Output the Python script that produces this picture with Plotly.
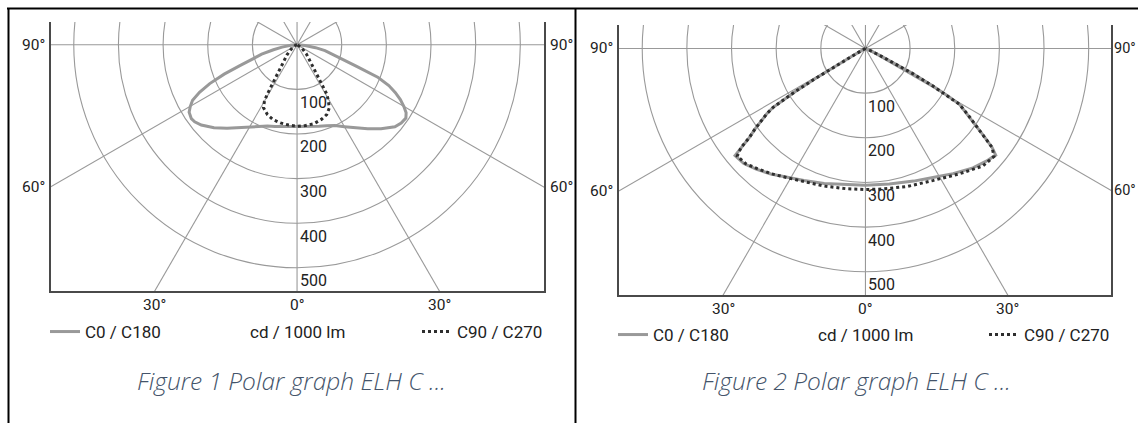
import numpy as np
import plotly.graph_objects as go

# ---------------- data (gamma angle in degrees from nadir, intensity in cd / 1000 lm) -------------
# Figure 1
fig1_c0_angle = [0, 5, 10, 15, 20, 25, 30, 35, 40, 45, 50, 53, 56, 58, 60, 62, 64, 66, 68, 70, 72, 75, 78, 81, 85, 90]
fig1_c0_cd = [183, 184, 186, 189, 193, 200, 212, 227, 246, 266, 286, 292, 294, 288, 276, 262, 245, 225, 196, 142, 108, 84, 64, 42, 18, 0]
fig1_c180_angle = [0, 5, 10, 15, 20, 25, 30, 35, 40, 45, 50, 53, 55, 58, 60, 62, 64, 66, 68, 70, 72, 75, 78, 81, 85, 90]
fig1_c180_cd = [183, 184, 187, 190, 194, 201, 212, 226, 244, 263, 280, 287, 289, 285, 276, 265, 243, 214, 176, 134, 110, 82, 54, 34, 14, 0]
fig1_c90_angle = [0, 6, 12, 18, 23, 27, 29, 31, 31.6, 32.4, 33.7, 35.6, 38.5, 45, 57, 70, 90]
fig1_c90_cd = [183, 182, 181, 176, 170, 159, 145, 130, 114, 97, 81, 64, 48, 30, 12, 4, 0]
fig1_c270_angle = [0, 6, 12, 18, 23, 28, 30, 31, 31.6, 32.4, 33.7, 35.6, 38.5, 45, 57, 70, 90]
fig1_c270_cd = [183, 181, 179, 176, 170, 160, 146, 130, 114, 97, 81, 64, 48, 32, 13, 4, 0]

# Figure 2
fig2_c0_angle = [0, 10, 14, 20, 27.6, 35, 42, 47, 50.7, 52, 53.5, 55, 57, 59.3, 60, 60.9, 62, 62.7, 64, 66, 70, 90]
fig2_c0_cd = [306, 308, 310, 316, 326, 342, 360, 370, 377, 360, 330, 303, 275, 245, 215, 173, 120, 86, 40, 15, 4, 0]
fig2_c180_angle = [0, 10, 17, 25, 31, 37, 42, 46.6, 50.6, 51.5, 52.5, 54, 55, 56.5, 57.5, 58, 58.5, 59, 59.5, 60, 62, 66, 90]
fig2_c180_cd = [306, 309, 316, 326, 337, 352, 364, 375, 378, 356, 328, 305, 290, 265, 245, 225, 185, 135, 80, 35, 10, 3, 0]
fig2_c90_angle = [0, 7, 17, 27, 37, 45, 50, 52, 53.5, 55, 57, 59.3, 60, 60.9, 62, 62.7, 64, 66, 70, 90]
fig2_c90_cd = [316, 317, 323, 332, 351, 372, 376, 360, 330, 303, 275, 245, 215, 173, 120, 86, 40, 15, 4, 0]
fig2_c270_angle = [0, 8, 17, 25, 31, 37, 42, 46, 50, 51.5, 52.5, 54, 55, 56.5, 57.5, 58, 58.5, 59, 59.5, 60, 62, 66, 90]
fig2_c270_cd = [316, 317, 322, 329, 338, 351, 362, 372, 375, 356, 328, 305, 290, 265, 245, 225, 185, 135, 80, 35, 10, 3, 0]

ring_values = [100, 200, 300, 400, 500]
ring_labels = ["100", "200", "300", "400", "500"]
spoke_angles = list(range(0, 360, 30))
side_label_angles = [90, 60]
bottom_label_angles = [-30, 0, 30]
legend_solid = "C0 / C180"
legend_dotted = "C90 / C270"
unit_label = "cd / 1000 lm"
captions = ["Figure 1 Polar graph ELH C ...", "Figure 2 Polar graph ELH C ..."]

# ---------------- styling / layout -------------
W, H = 1138, 423
NARROW = "Roboto, Liberation Sans, sans-serif"
TXT = "#222222"
GRID = "#999999"
FRAME = "#4a4a4a"
SOLID = "#999999"
DOTS = "#2e2e2e"

panels = [
    dict(xpx=(51, 544), ypx=(22, 291), xr=(-551, 553), yr=(-552, 51),
         solid=((fig1_c180_angle, fig1_c180_cd), (fig1_c0_angle, fig1_c0_cd)),
         dotted=((fig1_c270_angle, fig1_c270_cd), (fig1_c90_angle, fig1_c90_cd)),
         cell=(8, 575), legend_y=332, caption_y=380, right_label=(4, 15.5)),
    dict(xpx=(619, 1111), ypx=(25, 295), xr=(-552, 550), yr=(-552, 52.6),
         solid=((fig2_c180_angle, fig2_c180_cd), (fig2_c0_angle, fig2_c0_cd)),
         dotted=((fig2_c270_angle, fig2_c270_cd), (fig2_c90_angle, fig2_c90_cd)),
         cell=(575, 1138), legend_y=335, caption_y=380, right_label=(1, 14.5)),
]


def px(x):
    return x / W


def py(y):
    return 1 - y / H


def closed_curve(left, right):
    la = np.radians(np.array(left[0], dtype=float))[::-1]
    lv = np.array(left[1], dtype=float)[::-1]
    ra = np.radians(np.array(right[0], dtype=float))
    rv = np.array(right[1], dtype=float)
    x = np.concatenate([-lv * np.sin(la), rv * np.sin(ra)])
    y = np.concatenate([-lv * np.cos(la), -rv * np.cos(ra)])
    return x, y


fig = go.Figure()
shapes = []
annotations = []
layout_axes = {}
legends = {}
leg_idx = 1

for i, p in enumerate(panels):
    k = "" if i == 0 else str(i + 1)
    xa, ya = "x" + k, "y" + k
    layout_axes["xaxis" + k] = dict(
        domain=[px(p["xpx"][0]), px(p["xpx"][1])], range=list(p["xr"]), anchor=ya,
        showgrid=False, zeroline=False, showticklabels=False, ticks="",
        showline=True, linecolor=FRAME, linewidth=2, mirror=False, fixedrange=True)
    layout_axes["yaxis" + k] = dict(
        domain=[py(p["ypx"][1]), py(p["ypx"][0])], range=list(p["yr"]), anchor=xa,
        showgrid=False, zeroline=False, showticklabels=False, ticks="",
        showline=True, linecolor=FRAME, linewidth=2, mirror=True, fixedrange=True)

    # polar grid: rings and spokes
    for r in ring_values:
        shapes.append(dict(type="circle", xref=xa, yref=ya, x0=-r, x1=r, y0=-r, y1=r,
                           line=dict(color=GRID, width=1.1), layer="below"))
    for a in spoke_angles:
        t = np.radians(a)
        shapes.append(dict(type="line", xref=xa, yref=ya, x0=0, y0=0,
                           x1=1500 * np.sin(t), y1=-1500 * np.cos(t),
                           line=dict(color=GRID, width=1.1), layer="below"))

    # curves
    sx, sy = closed_curve(*p["solid"])
    dx, dy = closed_curve(*p["dotted"])
    lg1 = "legend" if leg_idx == 1 else "legend" + str(leg_idx)
    lg2 = "legend" + str(leg_idx + 1)
    fig.add_trace(go.Scatter(x=sx, y=sy, xaxis=xa, yaxis=ya, mode="lines", name=legend_solid,
                             line=dict(color=SOLID, width=3), legend=lg1, hoverinfo="skip"))
    fig.add_trace(go.Scatter(x=dx, y=dy, xaxis=xa, yaxis=ya, mode="lines", name=legend_dotted,
                             line=dict(color=DOTS, width=3, dash="dot"), legend=lg2, hoverinfo="skip"))
    ly = py(p["legend_y"])
    legends[lg1] = dict(x=px(p["xpx"][0] - 6), xanchor="left", y=ly, yanchor="middle",
                        bgcolor="rgba(0,0,0,0)", borderwidth=0,
                        font=dict(family=NARROW, size=17, color=TXT), itemclick=False, itemdoubleclick=False)
    legends[lg2] = dict(x=px(p["xpx"][1] + 4), xanchor="right", y=ly, yanchor="middle",
                        bgcolor="rgba(0,0,0,0)", borderwidth=0,
                        font=dict(family=NARROW, size=17, color=TXT), itemclick=False, itemdoubleclick=False)
    leg_idx += 2

    # unit label
    annotations.append(dict(x=0, xref=xa, y=ly, yref="paper", text=unit_label, showarrow=False,
                            xanchor="center", yanchor="middle",
                            font=dict(family=NARROW, size=17, color=TXT)))
    # ring labels
    for r, lab in zip(ring_values, ring_labels):
        annotations.append(dict(x=0, y=-r, xref=xa, yref=ya, text=lab, showarrow=False,
                                xanchor="left", yanchor="middle", xshift=1, yshift=-13,
                                font=dict(family=NARROW, size=16, color=TXT)))
    # side angle labels
    x0, x1 = p["xr"]
    rshift, rsize = p["right_label"]
    for a in side_label_angles:
        t = np.radians(a)
        for xe, anc, sh, fs in ((x0, "right", -4, 15.5), (x1, "left", rshift, rsize)):
            yv = -abs(xe) / np.tan(t) if a != 90 else 0
            annotations.append(dict(x=xe, y=yv, xref=xa, yref=ya, text=f"{a}°", showarrow=False,
                                    xanchor=anc, yanchor="middle", xshift=sh,
                                    font=dict(family=NARROW, size=fs, color=TXT)))
    # bottom angle labels
    yb = p["yr"][0]
    for a in bottom_label_angles:
        xv = abs(yb) * np.tan(np.radians(a))
        annotations.append(dict(x=xv, y=yb, xref=xa, yref=ya, text=f"{abs(a)}°", showarrow=False,
                                xanchor="center", yanchor="middle", yshift=-14,
                                font=dict(family=NARROW, size=15.5, color=TXT)))
    # caption
    c0, c1 = p["cell"]
    annotations.append(dict(x=px((c0 + c1) / 2), y=py(p["caption_y"]), xref="paper", yref="paper",
                            text=captions[i], showarrow=False, xanchor="center", yanchor="middle",
                            font=dict(family="Open Sans, Lato, sans-serif", size=24.5, color="#44546A",
                                      style="italic", weight=300)))

# table borders
for sh in (dict(x0=px(7), x1=1, y0=py(8.5), y1=py(8.5)),
           dict(x0=px(8.5), x1=px(8.5), y0=0, y1=py(8)),
           dict(x0=px(575.5), x1=px(575.5), y0=0, y1=py(8))):
    shapes.append(dict(type="line", xref="paper", yref="paper", line=dict(color="#000000", width=2), **sh))

fig.update_layout(width=W, height=H, margin=dict(l=0, r=0, t=0, b=0),
                  paper_bgcolor="white", plot_bgcolor="white",
                  shapes=shapes, annotations=annotations, showlegend=True,
                  **layout_axes, **legends)
fig.write_html("out.html", config={"displayModeBar": False},
               post_script="document.body.style.margin='0px';document.body.style.overflow='hidden';")
